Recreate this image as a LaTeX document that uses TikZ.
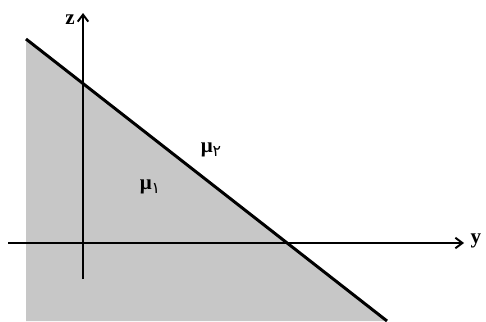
\documentclass[tikz,border=0pt]{standalone}
\usepackage{fontspec}
\setmainfont{Liberation Serif}
\newfontfamily\arabicfont[Script=Arabic]{DejaVu Sans}
\usetikzlibrary{arrows.meta}
\begin{document}
\begin{tikzpicture}[
	x=0.02cm, y=-0.02cm,
	axis/.style={line width=1.1pt, -{Straight Barb[length=4pt,width=6pt]}},
	bound/.style={line width=1.7pt},
	region/.style={fill=black!22},
	lbl/.style={font=\large\bfseries, inner sep=1pt},
	]
	\useasboundingbox (0,0) rectangle (486,321);
	
	% medium 1 region
	\coordinate (top) at (26, 39);
	\coordinate (bot) at (387, 321);
	\fill[region] (top) -- (bot) -- (26, 321) -- cycle;
	\draw[bound] (top) -- (bot);
	
	% axes
	\coordinate (zs) at (83, 279);
	\coordinate (ze) at (83, 13);
	\coordinate (ys) at (8, 243);
	\coordinate (ye) at (464, 243);
	\draw[axis] (zs) -- (ze);
	\draw[axis] (ys) -- (ye);
	\node[lbl] (zlbl) at (70, 20) {z};
	\node[lbl] (ylbl) at (476, 241) {y};
	
	\node[lbl] (mu1) at (150, 187) {μ\raisebox{-0.4ex}{\arabicfont\mdseries\small ۱}};
	\node[lbl] (mu2) at (211, 150) {μ\raisebox{-0.4ex}{\arabicfont\mdseries\small ۲}};
	
\end{tikzpicture}
\end{document}
